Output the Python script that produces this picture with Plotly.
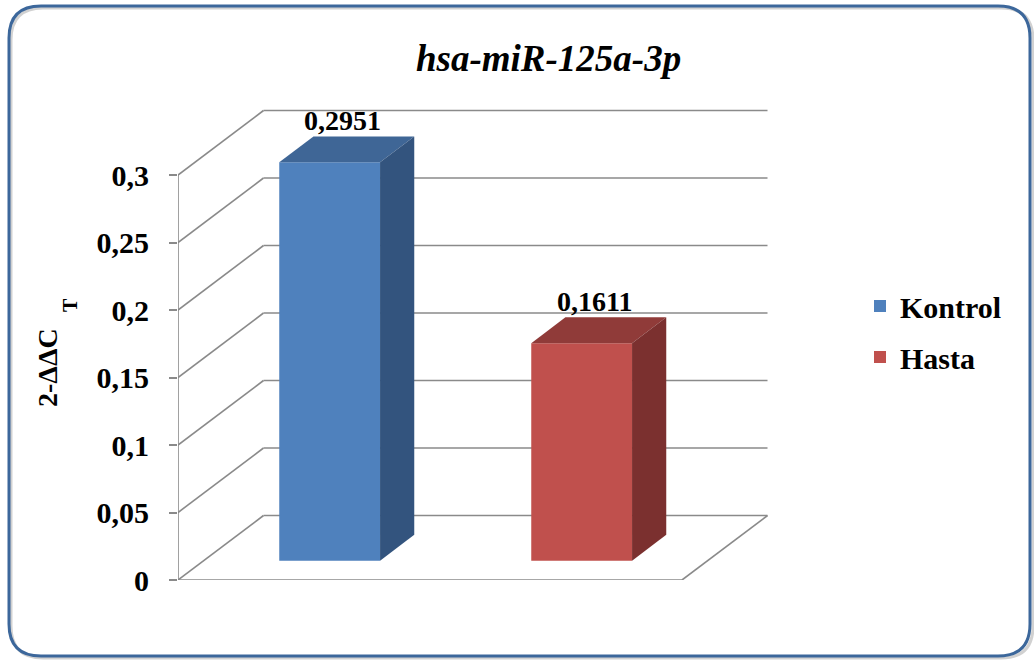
import plotly.graph_objects as go

# ---- data -------------------------------------------------------------
groups = ["Kontrol", "Hasta"]
values = [0.2951, 0.1611]
tick_values = [0, 0.05, 0.1, 0.15, 0.2, 0.25, 0.3]
tick_labels = ["0", "0,05", "0,1", "0,15", "0,2", "0,25", "0,3"]
chart_title = "hsa-miR-125a-3p"

# ---- styling / geometry ----------------------------------------------
FONT = "Liberation Serif"
FRONT = ["#4F81BD", "#C0504D"]
TOP = ["#3F6696", "#903B39"]
SIDE = ["#33547E", "#7B302F"]
GRID = "#8A8A8A"

W, H = 1034, 660
PX_X = 252.0           # pixels per category slot
PX_Y = 1350.0          # pixels per value unit
DX = 85.5 / PX_X       # oblique depth offset (x units)
DY = 64.5 / PX_Y       # oblique depth offset (y units)
BAR_W = 0.4
D0, D1 = 0.3, 0.7      # bar depth span as fraction of full depth

X_LEFT = 178           # pixel column of the front value axis
Y_ZERO = 580           # pixel row of value 0 on the front plane
X_RIGHT = 772
Y_TOP = 100

x_min = -0.5
x_max = x_min + (X_RIGHT - X_LEFT) / PX_X
y_max = (Y_ZERO - Y_TOP) / PX_Y
x_floor_right = x_min + len(groups)

fig = go.Figure()

# ---- walls & gridlines -----------------------------------------------
shapes = []
line = dict(color=GRID, width=1.6)
for v in tick_values:
    # back wall
    shapes.append(dict(type="line", xref="x", yref="y", layer="below",
                       x0=x_min + DX, y0=v + DY, x1=x_floor_right + DX, y1=v + DY, line=line))
    # side wall diagonal
    shapes.append(dict(type="line", xref="x", yref="y", layer="below",
                       x0=x_min, y0=v, x1=x_min + DX, y1=v + DY, line=line))
# floor front edge and right edge
shapes.append(dict(type="line", xref="x", yref="y", layer="below",
                   x0=x_min, y0=0, x1=x_floor_right, y1=0, line=line))
shapes.append(dict(type="line", xref="x", yref="y", layer="below",
                   x0=x_floor_right, y0=0, x1=x_floor_right + DX, y1=DY, line=line))
# front value axis
shapes.append(dict(type="line", xref="x", yref="y", layer="below",
                   x0=x_min, y0=0, x1=x_min, y1=tick_values[-1], line=line))

# ---- 3D bars ---------------------------------------------------------
for i, (name, v) in enumerate(zip(groups, values)):
    xc = i + D0 * DX
    base = D0 * DY
    xl, xr = xc - BAR_W / 2, xc + BAR_W / 2
    top = base + v
    ddx, ddy = (D1 - D0) * DX, (D1 - D0) * DY

    fig.add_trace(go.Bar(
        x=[xc], y=[v], base=[base], width=[BAR_W], name=f"<b>{name}</b>",
        legendgroup=name,
        marker=dict(color=FRONT[i], line=dict(width=0)), showlegend=True,
        hoverinfo="skip"))
    # top face
    fig.add_trace(go.Scatter(
        x=[xl, xr, xr + ddx, xl + ddx, xl],
        y=[top, top, top + ddy, top + ddy, top],
        fill="toself", fillcolor=TOP[i], mode="lines",
        line=dict(width=0, color=TOP[i]), showlegend=False, hoverinfo="skip"))
    # side face
    fig.add_trace(go.Scatter(
        x=[xr, xr, xr + ddx, xr + ddx, xr],
        y=[base, top, top + ddy, base + ddy, base],
        fill="toself", fillcolor=SIDE[i], mode="lines",
        line=dict(width=0, color=SIDE[i]), showlegend=False, hoverinfo="skip"))

# ---- annotations -----------------------------------------------------
annotations = []
for i, v in enumerate(values):
    annotations.append(dict(
        x=i + 0.45 * DX, y=v + D1 * DY, xref="x", yref="y",
        text=f"<b>{v:.4f}</b>".replace(".", ","), showarrow=False,
        xanchor="center", yanchor="bottom", yshift=-2,
        font=dict(family=FONT, size=28, color="black")))

annotations.append(dict(
    x=548 / W, y=1 - 58 / H, xref="paper", yref="paper",
    text=f"<b><i>{chart_title}</i></b>", showarrow=False,
    xanchor="center", yanchor="middle",
    font=dict(family=FONT, size=37, color="black")))

# y-axis title: 2^-ΔΔC with subscript T
annotations.append(dict(
    x=47 / W, y=1 - 368 / H, xref="paper", yref="paper",
    text="<b>2-ΔΔC</b>", textangle=-90, showarrow=False,
    xanchor="center", yanchor="middle",
    font=dict(family=FONT, size=28, color="black")))
annotations.append(dict(
    x=70 / W, y=1 - 305 / H, xref="paper", yref="paper",
    text="<b>T</b>", textangle=-90, showarrow=False,
    xanchor="center", yanchor="middle",
    font=dict(family=FONT, size=20, color="black")))

# ---- chart frame (rounded border with soft shadow) -------------------
def rounded(x0, y0, x1, y1, r):
    rx, ry = r / W, r / H
    X0, X1 = x0 / W, x1 / W
    Y0, Y1 = 1 - y1 / H, 1 - y0 / H
    return (f"M {X0 + rx},{Y1} L {X1 - rx},{Y1} Q {X1},{Y1} {X1},{Y1 - ry} "
            f"L {X1},{Y0 + ry} Q {X1},{Y0} {X1 - rx},{Y0} "
            f"L {X0 + rx},{Y0} Q {X0},{Y0} {X0},{Y0 + ry} "
            f"L {X0},{Y1 - ry} Q {X0},{Y1} {X0 + rx},{Y1} Z")

shapes.append(dict(type="path", xref="paper", yref="paper", layer="below",
                   path=rounded(11, 8, 1033, 658, 32),
                   line=dict(color="rgba(0,0,0,0.18)", width=3)))
shapes.append(dict(type="path", xref="paper", yref="paper", layer="above",
                   path=rounded(9, 6, 1030, 656, 32),
                   line=dict(color="#3C679B", width=3)))

fig.update_layout(
    width=W, height=H, autosize=False,
    margin=dict(l=0, r=0, t=0, b=0, pad=0),
    paper_bgcolor="white", plot_bgcolor="rgba(0,0,0,0)",
    barmode="overlay",
    shapes=shapes, annotations=annotations,
    showlegend=True,
    legend=dict(x=860 / W, y=1 - 280 / H, xanchor="left", yanchor="top",
                font=dict(family=FONT, size=30, color="black"),
                bgcolor="rgba(0,0,0,0)", itemsizing="constant",
                tracegroupgap=9),
    xaxis=dict(domain=[X_LEFT / W, X_RIGHT / W], range=[x_min, x_max],
               showgrid=False, zeroline=False, showline=False, automargin=False,
               showticklabels=False, ticks="", fixedrange=True),
    yaxis=dict(domain=[1 - Y_ZERO / H, 1 - Y_TOP / H], range=[0, y_max],
               showgrid=False, zeroline=False, showline=False, automargin=False,
               tickmode="array", tickvals=tick_values,
               ticktext=[f"<b>{t}</b>" for t in tick_labels],
               ticks="outside", ticklen=8, tickwidth=1.6, tickcolor=GRID,
               ticklabelstandoff=14,
               tickfont=dict(family=FONT, size=30, color="black"),
               fixedrange=True),
)

fig.write_html("out.html")
